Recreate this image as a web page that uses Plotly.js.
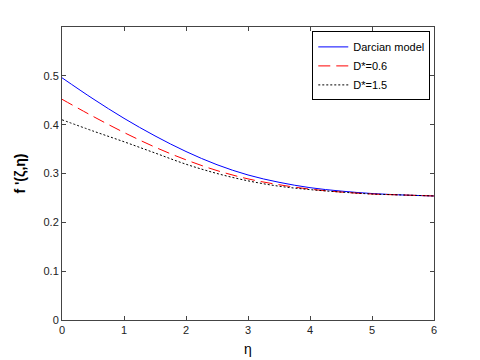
<!DOCTYPE html>
<html>
<head>
<meta charset="utf-8">
<script src="https://cdn.plot.ly/plotly-3.0.1.min.js"></script>
<style>
  html, body { margin: 0; padding: 0; background: #ffffff; }
  #plot { width: 480px; height: 360px; }
</style>
</head>
<body>
<div id="plot"></div>
<script>
/* values */
var eta = [0, 0.5, 1, 1.5, 2, 2.5, 3, 3.5, 4, 4.5, 5, 5.5, 6];

var darcian = [0.496, 0.453, 0.413, 0.377, 0.345, 0.318, 0.297, 0.282, 0.271, 0.264, 0.259, 0.256, 0.254];
var d06     = [0.452, 0.417, 0.384, 0.354, 0.328, 0.306, 0.289, 0.277, 0.268, 0.262, 0.258, 0.256, 0.254];
var d15     = [0.410, 0.387, 0.365, 0.342, 0.319, 0.300, 0.285, 0.274, 0.267, 0.262, 0.258, 0.256, 0.254];

var seriesNames = ["Darcian model", "D*=0.6", "D*=1.5"];
var yTicks = [0, 0.1, 0.2, 0.3, 0.4, 0.5];
var xTicks = [0, 1, 2, 3, 4, 5, 6];

var trace1 = {
  x: eta, y: darcian, name: seriesNames[0],
  type: "scatter", mode: "lines",
  line: { color: "#0000ff", width: 1, shape: "spline" }
};

var trace2 = {
  x: eta, y: d06, name: seriesNames[1],
  type: "scatter", mode: "lines",
  line: { color: "#ff0000", width: 1, dash: "12px,6px", shape: "spline" }
};

var trace3 = {
  x: eta, y: d15, name: seriesNames[2],
  type: "scatter", mode: "lines",
  line: { color: "#000000", width: 1, dash: "2px,2px", shape: "spline" }
};

var axisCommon = {
  showline: true, mirror: "ticks", linecolor: "#444444", linewidth: 1,
  ticks: "inside", ticklen: 4, tickcolor: "#444444",
  showgrid: false, zeroline: false,
  tickfont: { family: "Liberation Sans, Arial, sans-serif", size: 11, color: "#222222" }
};

var layout = {
  width: 480, height: 360,
  paper_bgcolor: "#ffffff", plot_bgcolor: "#ffffff",
  margin: { l: 62, r: 46, t: 27, b: 40 },
  font: { family: "Liberation Sans, Arial, sans-serif", size: 11, color: "#000000" },
  showlegend: true,
  xaxis: Object.assign({}, axisCommon, {
    range: [0, 6], tickvals: xTicks,
    title: { text: "η", font: { size: 14 }, standoff: 8 }
  }),
  yaxis: Object.assign({}, axisCommon, {
    range: [0, 0.6], tickvals: yTicks, ticktext: yTicks.map(String),
    title: { text: "<b>f '(ζ,η)</b>", font: { size: 14 }, standoff: 14 }
  }),
  legend: {
    x: 0.99, y: 0.985, xanchor: "right", yanchor: "top",
    bgcolor: "#ffffff", bordercolor: "#000000", borderwidth: 1,
    font: { family: "Liberation Sans, Arial, sans-serif", size: 11, color: "#000000" },
    tracegroupgap: 0, itemwidth: 30
  }
};

Plotly.newPlot("plot", [trace1, trace2, trace3], layout, { displayModeBar: false });
</script>
</body>
</html>
